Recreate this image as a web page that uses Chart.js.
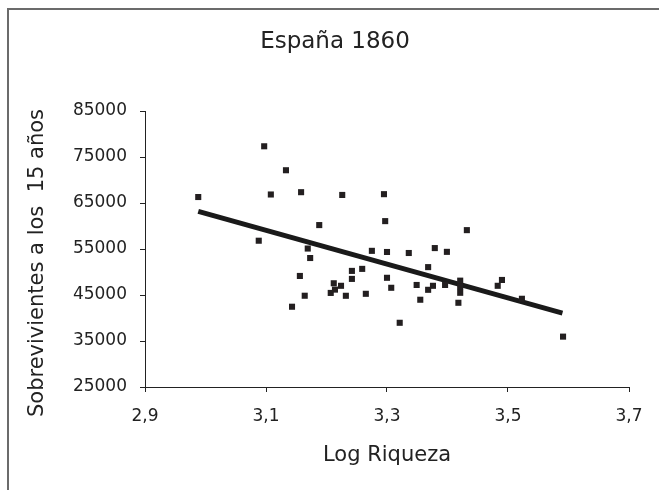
<!DOCTYPE html>
<html>
<head>
<meta charset="utf-8">
<title>España 1860</title>
<script src="https://cdn.jsdelivr.net/npm/chart.js@4"></script>
<style>
  html, body { margin: 0; padding: 0; background: #fff; }
  canvas { display: block; }
</style>
</head>
<body>
<canvas id="chart" width="659" height="490"></canvas>
<script>
// Log Riqueza (x) y Sobrevivientes a los 15 años (y)
const logRiqueza = [
  2.988, 3.097, 3.133, 3.108, 3.158, 3.226, 3.295, 3.297, 3.188, 3.432,
  3.088, 3.169, 3.173, 3.275, 3.300, 3.336, 3.379, 3.399, 3.368, 3.242,
  3.259, 3.242, 3.156, 3.300, 3.212, 3.224, 3.214, 3.207, 3.307, 3.265,
  3.232, 3.164, 3.143, 3.349, 3.376, 3.368, 3.355, 3.396, 3.421, 3.421,
  3.421, 3.418, 3.321, 3.483, 3.490, 3.523, 3.591
];
const sobrevivientes = [
  66300, 77330, 72120, 66850, 67350, 66750, 66920, 61060, 60200, 59100,
  56800, 55100, 53040, 54600, 54350, 54130, 55200, 54380, 51060, 50240,
  50680, 48500, 49140, 48740, 47550, 47000, 46170, 45450, 46570, 45260,
  44830, 44840, 42450, 47180, 47000, 46130, 43970, 47180, 48120, 46750,
  45480, 43310, 38960, 47000, 48270, 44180, 35950
];
// recta de tendencia (extremos)
const tendenciaX = [2.988, 3.590];
const tendenciaY = [63170, 41050];

const xTicks = [2.9, 3.1, 3.3, 3.5, 3.7];
const yTicks = [25000, 35000, 45000, 55000, 65000, 75000, 85000];

const font = "'DejaVu Sans', sans-serif";

// marco gris, título y rótulo del eje Y
const extras = {
  id: 'extras',
  beforeDraw(chart) {
    const ctx = chart.ctx;
    ctx.save();
    ctx.fillStyle = '#fff';
    ctx.fillRect(0, 0, chart.width, chart.height);
    ctx.strokeStyle = '#6b6b6b';
    ctx.lineWidth = 2;
    ctx.beginPath();
    ctx.moveTo(8, 490);
    ctx.lineTo(8, 9);
    ctx.lineTo(659, 9);
    ctx.stroke();
    ctx.fillStyle = '#222';
    ctx.font = "23px " + font;
    ctx.textAlign = 'center';
    ctx.textBaseline = 'alphabetic';
    ctx.fillText('España 1860', 335, 48);
    ctx.font = "21px " + font;
    ctx.textBaseline = 'middle';
    ctx.translate(38, 263);
    ctx.rotate(-Math.PI / 2);
    ctx.fillText('Sobrevivientes a los  15 años', 0, 0);
    ctx.restore();
  }
};

new Chart(document.getElementById('chart'), {
  data: {
    datasets: [
      {
        type: 'scatter',
        data: logRiqueza.map((x, i) => ({ x: x, y: sobrevivientes[i] })),
        pointStyle: 'rect',
        pointRadius: 4.3,
        backgroundColor: '#231f20',
        borderWidth: 0,
        order: 1
      },
      {
        type: 'line',
        data: tendenciaX.map((x, i) => ({ x: x, y: tendenciaY[i] })),
        borderColor: '#1a1a1a',
        borderWidth: 5,
        pointRadius: 0,
        fill: false,
        order: 2
      }
    ]
  },
  options: {
    responsive: false,
    animation: false,
    layout: { padding: { top: 111, left: 10, right: 30, bottom: 0 } },
    plugins: {
      legend: { display: false },
      tooltip: { enabled: false }
    },
    scales: {
      x: {
        type: 'linear',
        min: 2.9,
        max: 3.7,
        afterFit: s => { s.height = 103; },
        afterBuildTicks: s => { s.ticks = xTicks.map(v => ({ value: v })); },
        ticks: {
          color: '#222',
          font: { family: font, size: 17 },
          padding: 14,
          callback: v => v.toFixed(1).replace('.', ',')
        },
        grid: { drawOnChartArea: false, drawTicks: true, tickLength: 5, color: '#222' },
        border: { display: true, color: '#222', width: 1 },
        title: {
          display: true,
          text: 'Log Riqueza',
          color: '#222',
          font: { family: font, size: 21 },
          padding: { top: 0, bottom: 22 }
        }
      },
      y: {
        type: 'linear',
        min: 25000,
        max: 85000,
        afterFit: s => { s.width = 135; },
        afterBuildTicks: s => { s.ticks = yTicks.map(v => ({ value: v })); },
        ticks: {
          color: '#222',
          font: { family: font, size: 17 },
          padding: 13,
          callback: v => String(v)
        },
        grid: { drawOnChartArea: false, drawTicks: true, tickLength: 5, color: '#222' },
        border: { display: true, color: '#222', width: 1 }
      }
    }
  },
  plugins: [extras]
});
</script>
</body>
</html>
